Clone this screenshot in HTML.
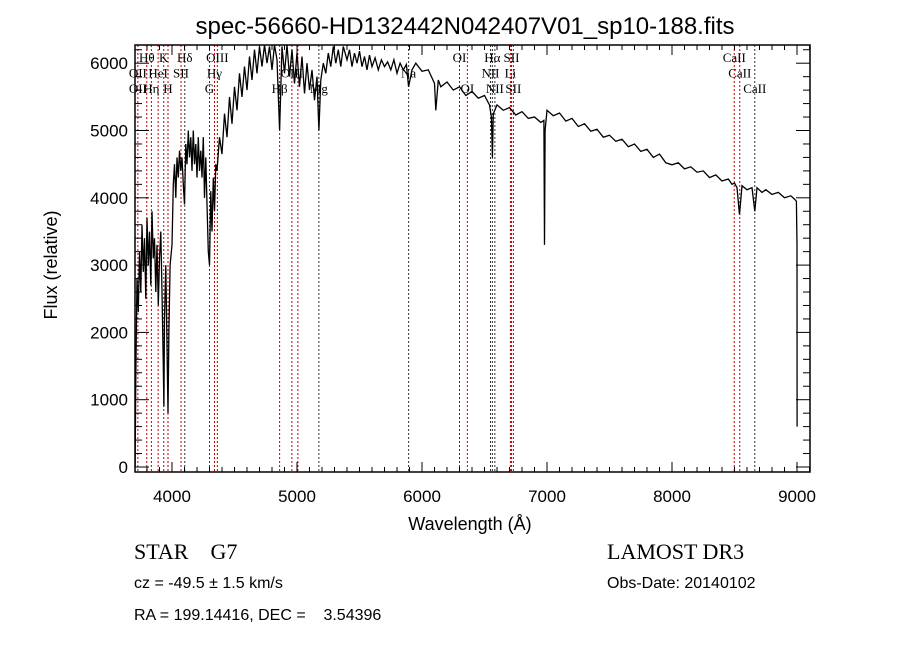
<!DOCTYPE html>
<html><head><meta charset="utf-8"><style>
body{margin:0;background:#fff;width:900px;height:649px;overflow:hidden}
svg{display:block}
.t{font-family:"Liberation Sans",sans-serif;fill:#000}
.s{font-family:"Liberation Serif",serif;fill:#000}
</style></head><body>
<svg id="chart" width="900" height="649">
<text class="t" x="465" y="34" font-size="24" text-anchor="middle">spec-56660-HD132442N042407V01_sp10-188.fits</text>
<g id="lines"></g>
<g id="spec"></g>
<g id="axes"></g>
<text class="t" x="470" y="530" font-size="18" text-anchor="middle">Wavelength (Å)</text>
<text class="t" x="57" y="265" font-size="18" text-anchor="middle" transform="rotate(-90 57 265)">Flux (relative)</text>
<text class="s" x="134" y="559" font-size="22" xml:space="preserve">STAR    G7</text>
<text class="s" x="607" y="559" font-size="22">LAMOST DR3</text>
<text class="t" x="134" y="588" font-size="16">cz = -49.5 ± 1.5 km/s</text>
<text class="t" x="607" y="588" font-size="16">Obs-Date: 20140102</text>
<text class="t" x="134" y="620" font-size="16" xml:space="preserve">RA = 199.14416, DEC =    3.54396</text>
</svg>
<script>
const wave=[3705,3710,3715,3720,3730,3740,3750,3760,3770,3780,3790,3800,3810,3820,3830,3840,3850,3860,3870,3880,3890,3900,3910,3920,3930,3935,3940,3950,3960,3968,3975,3985,4000,4010,4020,4030,4040,4050,4060,4070,4080,4090,4100,4110,4120,4130,4140,4150,4160,4170,4180,4190,4200,4210,4220,4230,4240,4250,4260,4270,4280,4290,4300,4305,4310,4320,4330,4340,4350,4360,4380,4400,4420,4440,4460,4480,4500,4520,4540,4560,4580,4600,4620,4640,4660,4680,4700,4720,4740,4760,4780,4800,4820,4840,4861,4880,4900,4920,4940,4960,4980,5000,5020,5040,5060,5080,5100,5120,5140,5160,5175,5190,5210,5230,5250,5270,5290,5310,5330,5350,5370,5400,5420,5440,5460,5480,5500,5520,5540,5560,5580,5600,5625,5650,5675,5700,5725,5750,5775,5800,5825,5850,5875,5893,5920,5950,6000,6050,6100,6110,6130,6150,6200,6250,6300,6350,6400,6450,6500,6540,6555,6563,6570,6600,6650,6700,6750,6800,6850,6900,6950,6975,6980,6985,7000,7050,7100,7150,7200,7250,7300,7350,7400,7450,7500,7550,7600,7650,7700,7750,7800,7850,7900,7950,8000,8050,8100,8150,8200,8250,8300,8350,8400,8450,8480,8500,8520,8540,8560,8600,8640,8662,8680,8720,8750,8800,8850,8900,8950,8980,8995,9000,9001];
const flux=[0,1300,2100,2800,2300,3200,2600,3600,2900,3400,2500,3700,3000,3500,2700,3800,3100,3400,2600,3300,2400,3100,3500,2600,1500,900,2200,3000,1800,800,2000,3000,3300,4200,4500,4000,4600,4300,4700,4400,4600,4200,3900,4800,4500,5000,4600,4900,4400,5000,4500,4800,4300,4900,4400,4700,4300,4900,4000,4600,3900,3200,3000,3500,4100,3500,4300,3800,4500,4400,4900,4650,5250,4900,5500,5100,5650,5300,5850,5500,5950,5600,6100,5750,6200,5850,6250,5950,6280,6000,6250,5900,6280,6050,5000,6250,5850,6280,5800,6200,5700,6150,5650,6100,5550,6000,5600,5900,5450,5800,5000,5750,6000,5850,6150,5950,6250,6000,6200,5950,6250,6050,6200,5950,6150,6000,6180,5950,6100,5900,6120,5950,6080,5900,6050,5950,6020,5900,6050,5850,6000,5900,5980,5650,5900,6000,5880,5900,5700,5300,5750,5650,5720,5600,5650,5520,5580,5480,5520,5380,5200,4600,5250,5380,5300,5340,5230,5280,5180,5200,5120,5150,3300,5000,5300,5220,5260,5140,5180,5060,5100,4990,5020,4900,4930,4840,4870,4760,4800,4690,4720,4600,4650,4520,4490,4520,4430,4460,4380,4400,4300,4340,4250,4280,4200,4220,4150,3750,4180,4120,4150,3800,4150,4080,4120,4050,4080,4000,4030,3980,3950,3300,600];
const lineWave=[3727,3798,3835,3889,3934,3968,4072,4102,4300,4340,4363,4861,4959,5007,5175,5893,6300,6363,6548,6563,6583,6707,6716,6731,8498,8542,8662];
const lineColor=['r','r','r','r','r','r','r','k','r','r','r','r','r','r','k','k','r','r','k','k','k','r','r','r','r','r','k'];
const labelText=['Hθ','K','Hδ','OIII','OI','Hα','SII','CaII','OII','HeI','SII','Hγ','OIII','Na','NII','Li','CaII','OII','Hη','H','G','Hβ','Mg','OI','NII','SII','CaII'];
const labelWave=[3798,3934,4102,4363,6300,6563,6716,8498,3727,3889,4072,4340,4959,5893,6548,6707,8542,3727,3835,3968,4300,4861,5175,6363,6583,6731,8662];
const labelRow=[0,0,0,0,0,0,0,0,1,1,1,1,1,1,1,1,1,2,2,2,2,2,2,2,2,2,2];
const xTicks=[4000,5000,6000,7000,8000,9000];
const yTicks=[0,1000,2000,3000,4000,5000,6000];
const L=135,R=810,T=45,B=472;
const X=w=>172+(w-4000)*0.125;
const Y=f=>467-f*0.0673;
const NS='http://www.w3.org/2000/svg';
function mk(tag,parent,attrs){const e=document.createElementNS(NS,tag);for(const k in attrs)e.setAttribute(k,attrs[k]);parent.appendChild(e);return e;}
const gl=document.getElementById('lines'),gs=document.getElementById('spec'),ga=document.getElementById('axes');
lineWave.forEach((w,i)=>{
 const l=mk('line',gl,{x1:X(w),x2:X(w),y1:T,y2:B,stroke:lineColor[i]==='r'?'#c00000':'#333','stroke-width':1,'stroke-dasharray':'2,2'});
 
 
});
labelText.forEach((s,i)=>{
 const t=mk('text',gl,{x:X(labelWave[i]),y:62+labelRow[i]*15.5,'font-size':13,'text-anchor':'middle',class:'s'});
 t.textContent=s;
 
 
});
let d='';wave.forEach((w,i)=>{d+=(i?'L':'M')+X(w).toFixed(1)+','+Math.max(T,Y(flux[i])).toFixed(1);});
const p=mk('path',gs,{d:d,fill:'none',stroke:'#000','stroke-width':1.3});


const fr=mk('rect',ga,{x:L,y:T,width:R-L,height:B-T,fill:'none',stroke:'#000','stroke-width':1.5});


for(let w=3800;w<=9100;w+=100){const x=X(w);const big=w%1000===0;const h=big?10:5;
 mk('line',ga,{x1:x,x2:x,y1:B,y2:B-h,stroke:'#000'});mk('line',ga,{x1:x,x2:x,y1:T,y2:T+h,stroke:'#000'});}
for(let f=0;f<=6200;f+=200){const y=Y(f);const big=f%1000===0;const h=big?14:7;
 mk('line',ga,{x1:L,x2:L+h,y1:y,y2:y,stroke:'#000'});mk('line',ga,{x1:R,x2:R-h,y1:y,y2:y,stroke:'#000'});}
xTicks.forEach(v=>{const t=mk('text',ga,{x:X(v),y:502,'font-size':17,'text-anchor':'middle',class:'t'});t.textContent=v;
 
 });
yTicks.forEach(v=>{const t=mk('text',ga,{x:128,y:Y(v)+6,'font-size':17,'text-anchor':'end',class:'t'});t.textContent=v;
 
 });
</script>
</body></html>
